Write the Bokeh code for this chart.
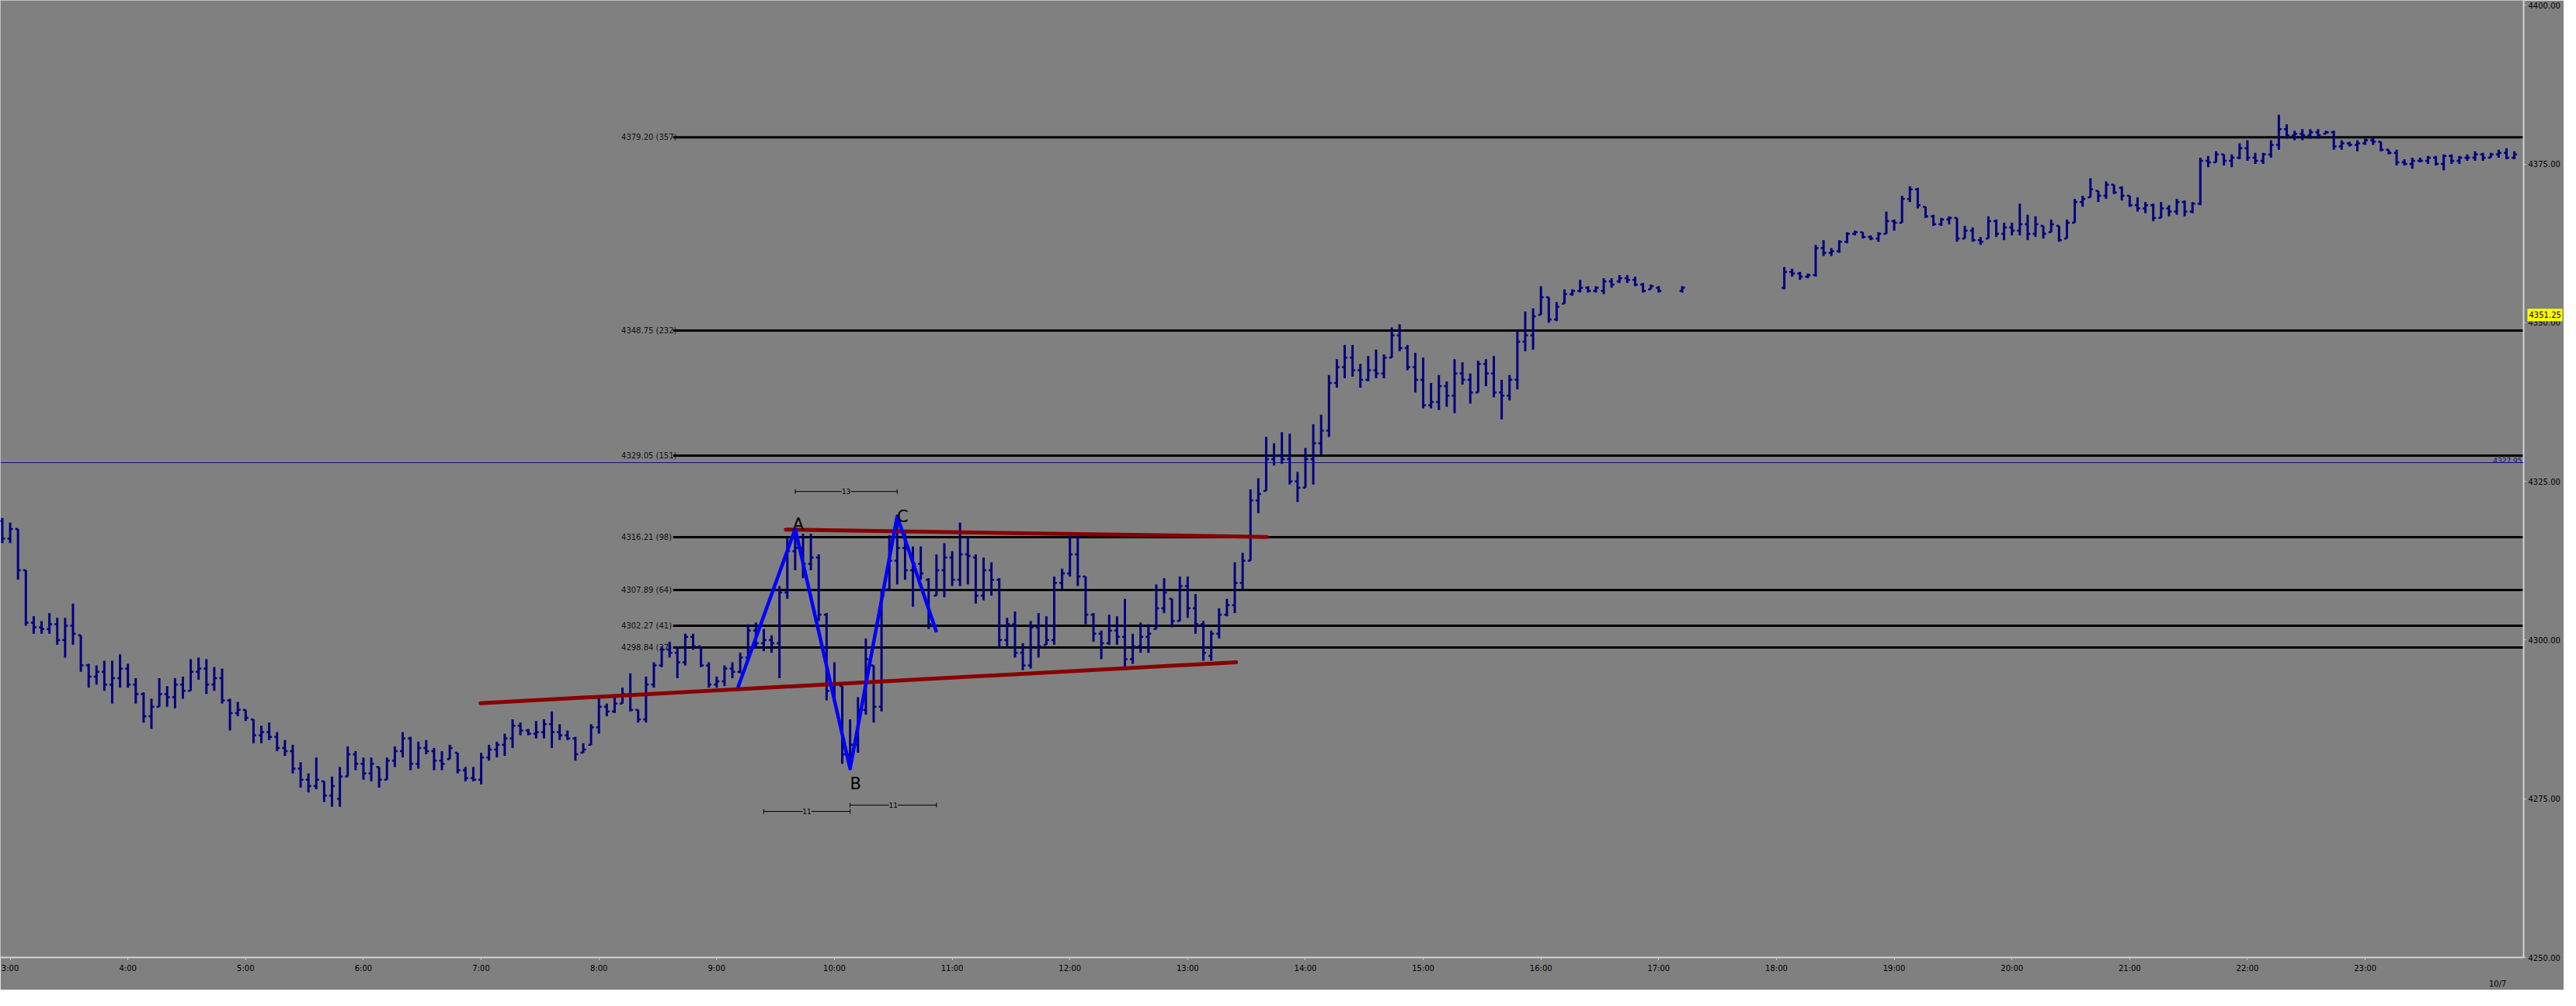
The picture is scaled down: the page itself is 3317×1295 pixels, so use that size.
import numpy as np
import pandas as pd
from bokeh.plotting import figure
from bokeh.models import (ColumnDataSource, FixedTicker, Range1d, Span, Label,
                          LinearAxis, PrintfTickFormatter)
from bokeh.core.properties import value
from bokeh.embed import file_html
from bokeh.resources import INLINE

# ---------------------------------------------------------------- data
bar_minutes = 4
session1_start = "02:56"
session2_start = "18:04"

# session 1 : 02:56 .. 17:12 (None = no bar)
s1_open = [
    4318.75, 4316.0, 4317.5, 4311.0, 4302.75, 4302.0, 4301.75, 4302.5, 4300.0, 4302.25,
    4300.75, 4296.0, 4294.25, 4295.0, 4293.0, 4294.0, 4295.5, 4293.0, 4291.5, 4288.0,
    4289.5, 4291.5, 4291.0, 4293.0, 4292.0, 4295.0, 4295.5, 4293.0, 4294.0, 4290.5,
    4288.5, 4289.0, 4287.5, 4285.0, 4285.5, 4284.75, 4283.0, 4282.5, 4279.75, 4278.0,
    4277.0, 4277.75, 4275.5, 4275.0, 4278.5, 4282.0, 4280.5, 4279.0, 4280.0, 4278.0,
    4281.0, 4282.5, 4284.5, 4280.5, 4283.0, 4282.5, 4281.0, 4281.25, 4282.25, 4279.5,
    4278.25, 4278.0, 4281.5, 4282.75, 4283.5, 4284.5, 4286.5, 4285.75, 4285.25, 4285.5,
    4286.75, 4285.5, 4285.0, 4284.5, 4282.25, 4283.5, 4286.25, 4289.5, 4288.75, 4290.0,
    4291.5, 4289.0, 4287.5, 4293.0, 4296.0, 4298.5, 4298.0, 4296.5, 4300.5, 4299.0,
    4296.0, 4293.0, 4293.5, 4295.5, 4295.0, 4297.25, 4301.5, 4299.5, 4300.0, 4299.5,
    4307.5, 4314.0, 4314.5, 4312.0, 4313.0, 4304.0, 4292.0, 4292.75, 4282.0, 4283.5,
    4289.0, 4296.0, 4289.5, 4308.0, 4312.5, 4314.5, 4311.0, 4312.0, 4309.5, 4307.0,
    4311.0, 4313.0, 4309.5, 4313.5, 4313.0, 4307.0, 4311.0, 4309.5, 4300.0, 4302.5,
    4298.0, 4296.0, 4302.0, 4299.25, 4300.0, 4309.0, 4310.5, 4313.5, 4310.0, 4304.0,
    4301.0, 4299.5, 4301.5, 4300.5, 4297.0, 4299.0, 4300.5, 4301.75, 4305.0, 4306.5,
    4303.0, 4308.5, 4305.0, 4302.5, 4297.5, 4301.0, 4304.0, 4305.5, 4309.0, 4312.5,
    4322.0, 4323.5, 4328.5, 4329.0, 4328.5, 4325.0, 4324.0, 4328.5, 4331.0, 4333.0,
    4340.5, 4343.0, 4344.5, 4342.5, 4341.0, 4342.5, 4342.0, 4344.5, 4348.0, 4346.0,
    4343.0, 4341.0, 4337.0, 4337.5, 4340.0, 4338.5, 4342.0, 4341.0, 4339.0, 4343.5,
    4342.0, 4339.0, 4338.5, 4341.0, 4347.0, 4348.0, 4351.25, 4354.0, 4350.5, 4353.0,
    4354.5, 4355.0, 4355.5, 4355.0, 4355.0, 4356.5, 4356.5, 4357.0, 4356.75, 4356.0,
    4355.25, 4355.5, None, None, 4355.0,
]
s1_high = [
    4319.25, 4318.5, 4317.5, 4311.0, 4303.75, 4303.0, 4304.25, 4303.5, 4303.5, 4305.75,
    4300.75, 4296.25, 4296.0, 4296.75, 4296.75, 4297.75, 4296.25, 4294.0, 4291.75, 4290.75,
    4294.0, 4292.75, 4294.0, 4294.25, 4297.0, 4297.25, 4297.0, 4295.75, 4295.5, 4290.75,
    4290.25, 4289.0, 4287.5, 4286.5, 4287.0, 4285.5, 4284.25, 4283.5, 4280.75, 4279.0,
    4281.5, 4277.75, 4278.5, 4280.0, 4283.25, 4282.5, 4281.5, 4281.5, 4280.0, 4281.5,
    4283.25, 4285.5, 4284.75, 4284.0, 4284.25, 4283.0, 4282.5, 4283.5, 4282.25, 4280.0,
    4280.0, 4282.25, 4283.5, 4284.0, 4285.25, 4287.5, 4287.0, 4286.0, 4287.25, 4287.5,
    4288.75, 4286.75, 4285.75, 4284.75, 4283.75, 4286.75, 4291.0, 4290.0, 4291.25, 4292.5,
    4294.75, 4289.0, 4294.25, 4296.5, 4299.0, 4299.75, 4299.0, 4301.0, 4301.0, 4299.0,
    4296.5, 4294.25, 4296.0, 4296.5, 4298.0, 4302.5, 4302.75, 4301.75, 4300.75, 4308.5,
    4316.0, 4317.5, 4316.75, 4316.75, 4313.5, 4304.25, 4296.5, 4292.75, 4287.5, 4291.0,
    4300.25, 4296.0, 4307.75, 4316.5, 4319.5, 4316.75, 4314.75, 4314.75, 4309.75, 4313.5,
    4315.25, 4314.0, 4318.5, 4316.25, 4313.5, 4313.0, 4312.25, 4309.75, 4303.5, 4304.5,
    4299.5, 4303.0, 4304.25, 4303.75, 4310.0, 4311.25, 4316.5, 4316.5, 4310.0, 4304.25,
    4301.5, 4304.0, 4303.75, 4306.5, 4301.0, 4302.75, 4302.5, 4308.75, 4309.75, 4306.5,
    4310.0, 4310.0, 4307.25, 4303.0, 4301.5, 4305.0, 4306.5, 4312.25, 4313.75, 4323.75,
    4325.5, 4332.0, 4331.0, 4332.75, 4332.5, 4326.5, 4330.25, 4334.0, 4335.5, 4341.75,
    4344.25, 4346.5, 4346.5, 4343.5, 4344.75, 4345.75, 4345.0, 4349.25, 4349.75, 4346.5,
    4345.25, 4344.5, 4340.5, 4341.75, 4340.75, 4344.25, 4343.75, 4342.0, 4344.0, 4344.25,
    4344.75, 4341.0, 4341.75, 4348.75, 4351.75, 4352.25, 4355.75, 4354.0, 4353.25, 4355.25,
    4355.25, 4356.75, 4355.75, 4355.75, 4357.0, 4357.0, 4357.5, 4357.5, 4357.25, 4356.25,
    4356.0, 4355.75, None, None, 4355.75,
]
s1_low = [
    4315.25, 4315.25, 4309.5, 4302.25, 4301.0, 4301.0, 4301.0, 4299.25, 4297.25, 4299.25,
    4295.0, 4292.5, 4293.0, 4292.0, 4290.0, 4292.5, 4292.5, 4290.0, 4287.0, 4286.0,
    4289.5, 4289.5, 4289.25, 4290.75, 4292.0, 4293.75, 4291.5, 4292.0, 4290.0, 4285.75,
    4288.0, 4287.25, 4283.75, 4283.75, 4284.25, 4282.5, 4281.75, 4279.0, 4276.75, 4276.0,
    4276.5, 4274.5, 4273.75, 4273.75, 4278.5, 4279.5, 4278.0, 4277.75, 4276.75, 4278.0,
    4280.0, 4281.5, 4279.5, 4279.75, 4282.0, 4279.5, 4279.5, 4281.25, 4279.0, 4277.75,
    4277.75, 4277.25, 4281.0, 4281.5, 4281.75, 4283.0, 4285.0, 4285.0, 4284.5, 4284.5,
    4283.0, 4284.25, 4284.25, 4281.0, 4282.25, 4283.5, 4285.25, 4288.0, 4288.5, 4290.0,
    4288.75, 4287.0, 4287.0, 4292.5, 4295.75, 4297.25, 4294.0, 4296.0, 4298.5, 4295.75,
    4292.5, 4292.5, 4292.75, 4294.0, 4294.75, 4297.25, 4298.75, 4298.25, 4298.0, 4294.0,
    4306.5, 4311.0, 4309.75, 4311.0, 4303.0, 4290.5, 4290.75, 4280.5, 4279.75, 4282.25,
    4288.25, 4287.0, 4288.75, 4308.0, 4308.75, 4309.5, 4305.25, 4309.5, 4301.75, 4307.0,
    4306.75, 4308.5, 4308.5, 4308.75, 4305.75, 4306.25, 4307.0, 4298.75, 4298.75, 4297.25,
    4295.25, 4295.5, 4297.25, 4299.25, 4299.25, 4308.0, 4310.0, 4308.5, 4302.5, 4299.75,
    4297.0, 4299.25, 4299.25, 4295.25, 4296.25, 4298.0, 4298.0, 4301.75, 4304.25, 4302.0,
    4303.0, 4303.5, 4301.0, 4296.75, 4296.75, 4300.25, 4303.75, 4304.25, 4308.0, 4312.5,
    4320.0, 4323.5, 4327.5, 4327.75, 4324.5, 4321.75, 4324.0, 4324.5, 4329.25, 4332.0,
    4339.75, 4341.25, 4341.5, 4339.75, 4340.75, 4341.25, 4341.25, 4344.5, 4345.5, 4342.5,
    4339.0, 4336.5, 4336.5, 4336.25, 4336.75, 4335.75, 4340.25, 4337.25, 4339.0, 4340.0,
    4338.25, 4334.75, 4337.75, 4339.5, 4345.5, 4345.75, 4351.25, 4350.0, 4350.25, 4353.0,
    4354.25, 4354.75, 4354.75, 4354.75, 4354.5, 4355.5, 4356.25, 4356.25, 4355.75, 4354.75,
    4355.25, 4354.75, None, None, 4354.75,
]
s1_close = [
    4316.0, 4317.5, 4311.0, 4302.75, 4302.0, 4301.75, 4302.5, 4300.0, 4302.25, 4301.0,
    4296.0, 4294.25, 4295.0, 4293.0, 4294.0, 4295.5, 4293.0, 4291.5, 4288.0, 4289.5,
    4291.5, 4291.0, 4293.0, 4292.0, 4295.0, 4295.5, 4293.0, 4294.0, 4290.5, 4288.5,
    4289.0, 4287.75, 4285.0, 4285.5, 4284.75, 4283.0, 4282.5, 4279.75, 4278.0, 4277.0,
    4278.0, 4275.5, 4277.0, 4278.5, 4282.0, 4280.5, 4279.0, 4280.5, 4278.0, 4281.0,
    4282.5, 4284.5, 4280.5, 4283.0, 4282.5, 4281.0, 4280.5, 4283.0, 4279.5, 4278.25,
    4278.0, 4281.5, 4282.75, 4283.5, 4284.5, 4286.5, 4285.75, 4285.25, 4285.5, 4286.75,
    4285.5, 4285.0, 4284.5, 4282.0, 4282.75, 4286.25, 4289.5, 4288.75, 4290.0, 4291.5,
    4289.0, 4287.5, 4293.0, 4296.0, 4298.5, 4298.0, 4296.5, 4300.5, 4299.0, 4296.0,
    4293.0, 4293.5, 4295.5, 4295.0, 4297.25, 4301.5, 4299.5, 4300.0, 4299.5, 4307.5,
    4314.0, 4314.5, 4312.0, 4313.0, 4304.0, 4292.0, 4293.0, 4282.0, 4283.5, 4289.0,
    4297.0, 4289.5, 4307.0, 4312.5, 4314.5, 4311.0, 4312.0, 4310.5, 4302.5, 4311.0,
    4313.0, 4309.5, 4313.5, 4313.25, 4307.0, 4311.0, 4309.5, 4300.0, 4302.5, 4298.0,
    4296.0, 4302.0, 4299.0, 4300.0, 4309.0, 4310.5, 4313.5, 4310.0, 4304.0, 4301.0,
    4299.5, 4301.5, 4300.5, 4297.0, 4299.0, 4300.5, 4301.0, 4305.0, 4307.5, 4303.0,
    4308.5, 4305.0, 4302.5, 4298.0, 4301.0, 4304.0, 4305.5, 4309.0, 4312.5, 4322.0,
    4323.0, 4328.5, 4329.0, 4328.5, 4325.0, 4324.0, 4328.5, 4331.0, 4333.0, 4340.5,
    4343.0, 4344.5, 4342.5, 4341.0, 4342.5, 4342.0, 4344.5, 4348.0, 4346.0, 4343.0,
    4341.0, 4337.0, 4337.5, 4340.0, 4338.5, 4342.0, 4341.0, 4339.0, 4343.5, 4342.0,
    4339.0, 4338.5, 4341.0, 4347.0, 4348.0, 4351.0, 4354.0, 4350.5, 4352.5, 4354.5,
    4355.0, 4355.5, 4355.0, 4355.5, 4356.5, 4356.0, 4357.0, 4356.75, 4356.0, 4355.0,
    4355.75, 4355.0, None, None, 4355.5,
]

# session 2 : 18:04 .. 00:16
s2_open = [
    4355.5, 4358.0, 4357.75, 4357.25, 4357.5, 4361.75, 4361.0, 4361.25, 4362.75, 4364.0,
    4364.25, 4363.5, 4363.25, 4364.0, 4366.0, 4365.75, 4369.5, 4371.0, 4368.25, 4366.75,
    4365.5, 4366.25, 4366.5, 4363.25, 4364.5, 4363.0, 4363.25, 4366.0, 4364.0, 4365.0,
    4364.5, 4365.5, 4364.0, 4365.25, 4364.25, 4365.25, 4363.25, 4365.75, 4369.0, 4369.75,
    4370.75, 4370.0, 4371.75, 4371.25, 4370.0, 4368.5, 4368.0, 4368.5, 4366.5, 4368.0,
    4367.5, 4369.0, 4367.5, 4368.75, 4375.5, 4375.25, 4376.5, 4375.5, 4376.0, 4377.5,
    4376.0, 4375.5, 4376.5, 4378.0, 4380.5, 4379.5, 4379.75, 4379.5, 4380.0, 4379.75,
    4380.0, 4377.75, 4378.25, 4378.0, 4378.25, 4378.75, 4378.5, 4377.25, 4376.75, 4375.25,
    4375.0, 4375.5, 4375.5, 4376.0, 4375.0, 4376.25, 4375.5, 4376.0, 4376.0, 4376.5,
    4376.0, 4376.5, 4376.75, 4376.0,
]
s2_high = [
    4358.75, 4358.5, 4358.0, 4357.75, 4362.25, 4363.0, 4361.75, 4363.0, 4364.25, 4364.5,
    4364.25, 4363.75, 4364.25, 4367.5, 4366.25, 4370.0, 4371.5, 4371.25, 4368.25, 4367.0,
    4366.5, 4366.75, 4366.5, 4365.25, 4365.0, 4363.5, 4366.75, 4366.25, 4365.75, 4365.75,
    4368.75, 4367.0, 4366.75, 4365.25, 4366.25, 4365.25, 4366.25, 4369.5, 4370.0, 4372.75,
    4370.75, 4372.25, 4371.75, 4371.5, 4370.0, 4369.75, 4369.0, 4368.75, 4369.0, 4368.5,
    4369.5, 4369.25, 4369.0, 4376.0, 4376.25, 4377.0, 4376.5, 4376.5, 4378.25, 4378.75,
    4376.75, 4376.75, 4378.75, 4382.75, 4381.25, 4380.25, 4380.5, 4380.5, 4380.5, 4380.25,
    4380.25, 4378.75, 4378.5, 4378.75, 4379.0, 4379.25, 4378.5, 4377.25, 4377.25, 4375.75,
    4376.0, 4376.0, 4376.25, 4376.25, 4376.5, 4376.5, 4376.25, 4376.5, 4377.0, 4376.75,
    4376.75, 4377.25, 4377.5, 4377.0,
]
s2_low = [
    4355.25, 4357.25, 4356.75, 4357.0, 4357.25, 4360.5, 4360.5, 4361.0, 4362.5, 4363.75,
    4363.25, 4363.0, 4362.75, 4364.0, 4364.5, 4365.75, 4369.0, 4368.0, 4366.5, 4365.25,
    4365.25, 4365.5, 4362.75, 4363.25, 4362.75, 4362.25, 4363.25, 4363.5, 4363.0, 4363.75,
    4363.75, 4363.0, 4363.5, 4363.25, 4364.25, 4362.75, 4363.25, 4365.75, 4368.25, 4369.75,
    4369.0, 4369.5, 4370.25, 4369.25, 4368.25, 4367.5, 4367.25, 4366.0, 4366.5, 4366.75,
    4367.0, 4366.75, 4367.25, 4368.5, 4374.5, 4375.25, 4374.75, 4374.5, 4375.75, 4375.5,
    4375.0, 4375.0, 4376.0, 4377.25, 4379.0, 4378.75, 4378.75, 4379.0, 4379.0, 4379.75,
    4377.25, 4377.25, 4377.75, 4377.0, 4378.0, 4378.0, 4377.0, 4376.5, 4374.75, 4374.75,
    4374.25, 4375.25, 4375.0, 4374.75, 4374.0, 4375.0, 4375.0, 4375.5, 4375.5, 4375.5,
    4376.0, 4376.0, 4375.75, 4375.75,
]
s2_close = [
    4358.0, 4357.75, 4357.25, 4357.5, 4361.75, 4361.0, 4361.25, 4362.75, 4364.0, 4364.25,
    4363.5, 4363.25, 4364.0, 4366.0, 4365.75, 4369.5, 4371.0, 4368.5, 4366.75, 4365.5,
    4366.25, 4366.5, 4363.25, 4364.5, 4363.0, 4362.75, 4366.0, 4364.0, 4365.0, 4364.5,
    4365.5, 4364.0, 4365.5, 4364.0, 4365.5, 4363.0, 4365.75, 4369.0, 4369.5, 4371.0,
    4370.0, 4371.75, 4370.5, 4370.0, 4368.5, 4368.0, 4368.5, 4366.5, 4368.0, 4367.5,
    4369.0, 4367.5, 4368.75, 4375.5, 4375.25, 4376.5, 4375.5, 4376.0, 4377.5, 4376.0,
    4375.5, 4376.5, 4378.0, 4380.5, 4379.5, 4379.75, 4379.5, 4380.0, 4379.5, 4380.0,
    4377.75, 4378.25, 4378.0, 4378.25, 4378.75, 4378.5, 4377.25, 4376.75, 4375.25, 4375.0,
    4375.5, 4375.5, 4376.0, 4375.0, 4376.25, 4375.5, 4376.0, 4376.0, 4376.5, 4376.0,
    4376.5, 4376.75, 4376.0, 4376.5,
]

# projection levels (price, bar count)
level_prices = [4379.20, 4348.75, 4329.05, 4316.21, 4307.89, 4302.27, 4298.84]
level_counts = [357, 232, 151, 98, 64, 41, 27]
level_label_time = 8.19
level_line_time = 8.63

# trend lines (time in hours, price)
support_t = [6.994, 13.411]
support_p = [4290.06, 4296.50]
resist_t = [9.587, 13.674]
resist_p = [4317.40, 4316.25]

# ABC swing
swing_t = [9.18, 9.667, 10.133, 10.533, 10.867]
swing_p = [4292.50, 4317.50, 4279.75, 4319.50, 4301.25]
swing_names = ["", "A", "B", "C", ""]

# bar-count brackets
count_text = ["13", "11", "11"]
count_t0 = [9.667, 9.400, 10.133]
count_t1 = [10.533, 10.133, 10.867]
count_p = [4323.4, 4273.0, 4274.0]

# price axis / time axis
price_ticks = [4250, 4275, 4300, 4325, 4350, 4375, 4400]
hour_ticks = list(range(3, 24))
hour_labels = ["%d:00" % h for h in hour_ticks]
date_label = "10/7"
date_label_time = 24.125
last_price = 4351.25
ref_price = 4327.95

# ---------------------------------------------------------------- style
BG = "#808080"
BAR = "#000080"
AXIS = "#d2d2d2"
RED = "#880000"
FONT = "DejaVu Sans"
FRAME_W, FRAME_H = 3249, 1232
X_START, X_END = 2.917, 24.345
Y_START, Y_END = 4250.0, 4400.77
px_h = FRAME_W / (X_END - X_START)
px_p = FRAME_H / (Y_END - Y_START)


def session_times(start, n):
    h, m = map(int, start.split(":"))
    return [(h * 60 + m + i * bar_minutes) / 60.0 for i in range(n)]


df = pd.DataFrame(dict(
    t=session_times(session1_start, len(s1_high)) + session_times(session2_start, len(s2_high)),
    open=s1_open + s2_open, high=s1_high + s2_high,
    low=s1_low + s2_low, close=s1_close + s2_close,
)).astype(float).dropna()
tick_len = 3.5 / px_h
df["tl"] = df["t"] - tick_len
df["tr"] = df["t"] + tick_len
src = ColumnDataSource(df)

p = figure(frame_width=FRAME_W, frame_height=FRAME_H,
           x_range=Range1d(X_START, X_END), y_range=Range1d(Y_START, Y_END),
           y_axis_location=None, toolbar_location=None, output_backend="svg",
           background_fill_color=BG, border_fill_color=BG, outline_line_color=None,
           min_border_left=0, min_border_top=0, min_border_right=52, min_border_bottom=40)
p.xgrid.visible = False
p.ygrid.visible = False

# price axis (inner)
price_axis = LinearAxis(ticker=FixedTicker(ticks=price_ticks),
                        formatter=PrintfTickFormatter(format="%.2f"),
                        major_label_standoff=3)
p.add_layout(price_axis, "right")

for ax in (p.xaxis[0], price_axis):
    ax.axis_line_color = AXIS
    ax.axis_line_width = 2
    ax.major_tick_line_color = AXIS
    ax.major_tick_out = 3
    ax.major_tick_in = 0
    ax.minor_tick_line_color = None
    ax.major_label_text_font = FONT
    ax.major_label_text_font_size = "10px"
    ax.major_label_text_color = "#000000"
p.xaxis.ticker = FixedTicker(ticks=hour_ticks)
p.xaxis.major_label_overrides = {h: s for h, s in zip(hour_ticks, hour_labels)}
p.xaxis.major_label_standoff = 5

# last-price marker (outer axis, drawn over the price labels, pointing back inwards)
marker_axis = LinearAxis(ticker=FixedTicker(ticks=[last_price]),
                         formatter=PrintfTickFormatter(format="%.2f"),
                         axis_line_color=None, minor_tick_line_color=None,
                         major_tick_line_color="#ffff00", major_tick_line_width=16,
                         major_tick_line_cap="butt", major_tick_in=45, major_tick_out=0,
                         major_label_standoff=-43, major_label_text_font=FONT,
                         major_label_text_font_size="10px", major_label_text_color="#000000")
p.add_layout(marker_axis, "right")

date_axis = LinearAxis(ticker=FixedTicker(ticks=[date_label_time]),
                       major_label_overrides={date_label_time: date_label},
                       axis_line_color=None, major_tick_line_color=None,
                       minor_tick_line_color=None, major_label_standoff=0,
                       major_label_text_font=FONT, major_label_text_font_size="10px",
                       major_label_text_color="#000000")
p.add_layout(date_axis, "below")

# reference (navy) line
p.add_layout(Span(location=ref_price, dimension="width", line_color="#101080", line_width=1))

# projection levels
n = len(level_prices)
lvl = ColumnDataSource(dict(y=level_prices, x0=[level_line_time] * n, x1=[X_END] * n,
                            lx=[level_label_time] * n,
                            txt=["%.2f (%d)" % (v, c) for v, c in zip(level_prices, level_counts)]))
p.segment(x0="x0", y0="y", x1="x1", y1="y", source=lvl, line_color="#000000", line_width=3)
p.text(x="lx", y="y", text="txt", source=lvl, text_font=value(FONT), text_font_size="10px",
       text_color="#111111", text_align="left", text_baseline="middle")

# OHLC bars
p.segment(x0="t", y0="low", x1="t", y1="high", source=src, line_color=BAR, line_width=3)
p.segment(x0="tl", y0="open", x1="t", y1="open", source=src, line_color=BAR, line_width=2.5)
p.segment(x0="t", y0="close", x1="tr", y1="close", source=src, line_color=BAR, line_width=2.5)

# trend lines
p.line(support_t, support_p, line_color=RED, line_width=5, line_cap="round")
p.line(resist_t, resist_p, line_color=RED, line_width=5, line_cap="round")

# ABC swing
p.line(swing_t, swing_p, line_color="#0000ff", line_width=4.5, line_join="round")
offsets = {"A": (4, 6, "alphabetic"), "B": (7, -8, "top"), "C": (7, 0, "alphabetic")}
for t, pr, name in zip(swing_t, swing_p, swing_names):
    if not name:
        continue
    dx, dy, base = offsets[name]
    p.text(x=[t + dx / px_h], y=[pr + dy / px_p], text=[name], text_font=value(FONT),
           text_font_size="21px", text_color="#000000", text_align="center",
           text_baseline=base)

# bar-count brackets
p.segment(x0=count_t0, y0=count_p, x1=count_t1, y1=count_p, line_color="#000000", line_width=1)
p.scatter(count_t0 + count_t1, count_p + count_p, marker="dash", size=6, angle=np.pi / 2,
          line_color="#000000", line_width=1)
for t0, t1, pr, txt in zip(count_t0, count_t1, count_p, count_text):
    p.add_layout(Label(x=(t0 + t1) / 2, y=pr, text=txt, text_align="center",
                       text_baseline="middle", text_font=FONT, text_font_size="9px",
                       text_color="#000000", background_fill_color=BG))

# reference price text at the right edge
p.add_layout(Label(x=X_END, y=ref_price, text="%.2f" % ref_price, text_align="right",
                   text_baseline="bottom", x_offset=-2, text_font=FONT, text_font_size="9px",
                   text_color="#101080"))

open("out.html", "w").write(file_html(p, INLINE))
